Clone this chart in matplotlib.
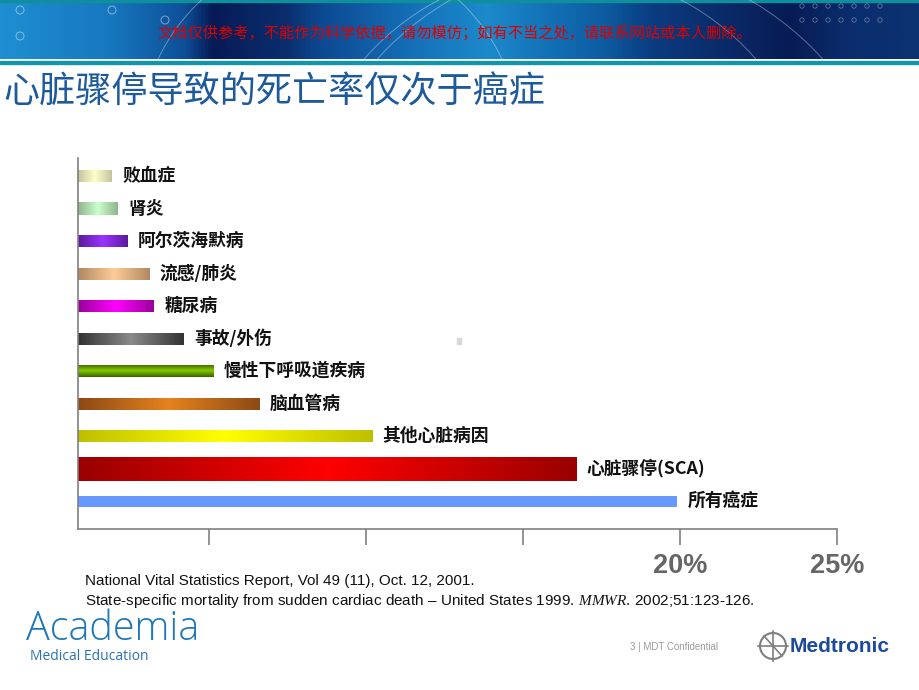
import numpy as np
import matplotlib
matplotlib.use('Agg')
import matplotlib.pyplot as plt
from matplotlib.colors import to_rgb, LinearSegmentedColormap
from matplotlib.patches import Circle, Rectangle

plt.rcParams['font.family'] = ['Noto Sans CJK SC', 'DejaVu Sans']
plt.rcParams['mathtext.fontset'] = 'custom'
plt.rcParams['mathtext.it'] = 'Liberation Serif:italic'
plt.rcParams['mathtext.rm'] = 'Liberation Sans'

# Data (share of US deaths, %)
categories = ['败血症', '肾炎', '阿尔茨海默病', '流感/肺炎', '糖尿病', '事故/外伤',
              '慢性下呼吸道疾病', '脑血管病', '其他心脏病因', '心脏骤停(SCA)', '所有癌症']
values = [1.9, 2.1, 2.4, 3.1, 3.25, 4.2, 5.15, 6.6, 10.2, 16.7, 19.9]
tick_values = [5, 10, 15, 20, 25]
tick_labels = ['', '', '', '20%', '25%']

# bar styles: (edge colour, centre colour, vertical gradient?, thickness)
styles = [
    ('#c4c49c', '#ffffcc', False, 0.37),
    ('#8fb38f', '#ccffcc', False, 0.37),
    ('#5a1a9a', '#9933ff', False, 0.37),
    ('#b08860', '#ffcc99', False, 0.37),
    ('#990099', '#ff00ff', False, 0.37),
    ('#333333', '#8a8a8a', False, 0.37),
    ('#3d5c00', '#80cc00', True, 0.37),
    ('#8b4a14', '#e6821e', False, 0.37),
    ('#bfbf00', '#ffff00', False, 0.37),
    ('#990000', '#ff0000', False, 0.74),
    ('#6699ff', '#6699ff', False, 0.34),
]
X0 = 0.83  # left edge of the value axis

fig = plt.figure(figsize=(9.2, 6.9), dpi=100)

# ---- slide background (pixel coordinates) ----
bg = fig.add_axes([0, 0, 1, 1], zorder=-1)
bg.set_xlim(0, 920)
bg.set_ylim(690, 0)
bg.axis('off')

stops = [(0.0, '#1f8fd2'), (0.12, '#1777be'), (0.2, '#0d4f97'), (0.23, '#061a55'),
         (0.31, '#0a2e6e'), (0.35, '#0c4a92'), (0.46, '#1674bc'), (0.53, '#1c8acb'),
         (0.6, '#1270b5'), (0.66, '#0d5a9f'), (0.71, '#0a3c80'), (0.79, '#0b2a68'),
         (0.86, '#071c55'), (0.93, '#0b2e6e'), (1.0, '#0b3270')]
banner_cmap = LinearSegmentedColormap.from_list('banner', stops)
bg.imshow(np.linspace(0, 1, 512)[None, :], cmap=banner_cmap, extent=(0, 920, 59, 0),
          aspect='auto', interpolation='bilinear')
bg.add_patch(Rectangle((0, 0), 920, 1.5, color='#0f8f9c'))
bg.add_patch(Rectangle((0, 61), 920, 3, color='#1494a8'))
for cx, cy, r in [(560, 230, 260), (600, 260, 300), (330, 140, 190)]:
    arc = Circle((cx, cy), r, fill=False, ec='white', lw=0.7, alpha=0.35)
    bg.add_patch(arc)
    arc.set_clip_path(Rectangle((0, 0), 920, 59, transform=bg.transData))
for x in range(802, 890, 13):
    for y in [6, 20]:
        bg.add_patch(Circle((x, y), 2.2, fill=False, ec='white', lw=0.6, alpha=0.35))
for cx, cy in [(20, 10), (20, 36), (112, 10), (165, 20)]:
    bg.add_patch(Circle((cx, cy), 4, fill=False, ec='white', lw=0.7, alpha=0.45))

bg.text(455, 33, '文档仅供参考，不能作为科学依据，请勿模仿；如有不当之处，请联系网站或本人删除。',
        color='#e00000', fontsize=11, ha='center', va='center')
bg.text(3, 93, '心脏骤停导致的死亡率仅次于癌症', color='#1c5a9c', fontsize=26,
        ha='left', va='center')
bg.add_patch(Rectangle((457, 338), 4, 6, color='#d8d8d8'))

bg.text(85, 581, 'National Vital Statistics Report, Vol 49 (11), Oct. 12, 2001.',
        family='Liberation Sans', fontsize=11, va='center', color='#111111')
bg.text(85, 601, r'State-specific mortality from sudden cardiac death – United States 1999. '
        r'$\mathit{MMWR}$. 2002;51:123-126.',
        family='Liberation Sans', fontsize=11, va='center', color='#111111')

bg.text(26, 629, 'Academia', family='Open Sans', fontweight='light', fontsize=28.5,
        color='#1e78b8', ha='left', va='center')
bg.text(30, 657, 'Medical Education', family='Open Sans', fontsize=10,
        color='#2a72b5', ha='left', va='center')
bg.text(630, 647, '3 | MDT Confidential', family='Liberation Sans', fontsize=7,
        color='#9a9a9a', ha='left', va='center')
bg.add_patch(Circle((773, 646), 13, fill=False, ec='#7f7f7f', lw=1.5))
bg.plot([773, 773], [631, 661], color='#7f7f7f', lw=1.2)
bg.plot([758, 788], [646, 646], color='#7f7f7f', lw=1.2)
bg.plot([764, 782], [636, 656], color='#7f7f7f', lw=1.2)
bg.text(790, 646, 'Medtronic', family='Liberation Sans', fontweight='bold', fontsize=15,
        color='#1c4a9c', ha='left', va='center')

# ---- bar chart ----
ax = fig.add_axes([78 / 920, 1 - 529 / 690, (837 - 78) / 920, (529 - 158) / 690])
ypos = np.arange(len(categories))
heights = [s[3] for s in styles]
bars = ax.barh(ypos, np.array(values) - X0, left=X0, height=heights, color='none', zorder=2)

for bar, (edge, centre, vertical, _), val, label, y in zip(bars, styles, values, categories, ypos):
    t = np.abs(np.linspace(-1, 1, 256))[:, None]
    cols = np.array(to_rgb(centre)) * (1 - t) + np.array(to_rgb(edge)) * t
    img = cols[:, None, :] if vertical else cols[None, :, :]
    x, yb, w, h = bar.get_x(), bar.get_y(), bar.get_width(), bar.get_height()
    im = ax.imshow(img, extent=(x, x + w, yb + h, yb), aspect='auto',
                   interpolation='bilinear', zorder=2)
    im.set_clip_path(bar)
    ax.annotate(label, xy=(val, y), xytext=(7.5, 0), textcoords='offset points',
                ha='left', va='center', fontsize=12.8, fontweight='bold', color='#111111')

ax.set_aspect('auto')
ax.set_xlim(X0, 25)
ax.set_ylim(len(categories) - 0.14, -0.554)
ax.set_facecolor('none')
for side in ['top', 'right']:
    ax.spines[side].set_visible(False)
for side in ['left', 'bottom']:
    ax.spines[side].set_color('#808080')
    ax.spines[side].set_linewidth(1.2)
ax.set_yticks([])
ax.set_xticks(tick_values)
ax.set_xticklabels(tick_labels, family='Liberation Sans', fontweight='bold',
                   fontsize=19.5, color='#666666')
ax.tick_params(axis='x', direction='out', length=11.5, width=1.2, color='#808080', pad=6)

fig.savefig('out.png', dpi=100)
